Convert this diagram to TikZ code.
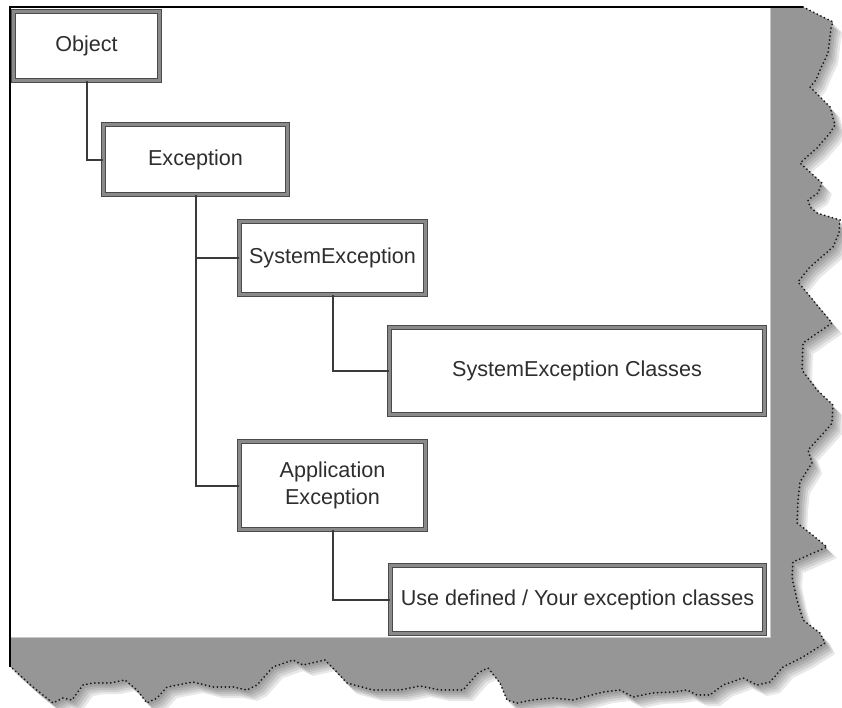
\documentclass[tikz,border=0pt]{standalone}
\usepackage{fontspec}
\setmainfont{Liberation Sans}
\definecolor{boxedge}{HTML}{4A4A4A}
\definecolor{boxband}{HTML}{8A8A8A}
\definecolor{txt}{HTML}{2E2E2E}
\definecolor{lnk}{HTML}{3A3A3A}
\definecolor{pagegray}{HTML}{969696}
\definecolor{seam}{HTML}{C8C8C8}
\begin{document}
\begin{tikzpicture}[x=1pt,y=-1pt,
  box/.style={draw=boxedge, line width=1pt, double=boxband, double distance=2.8pt,
    fill=white, inner sep=0pt, font=\fontsize{21.6}{27}\selectfont, text=txt, align=center},
  link/.style={draw=lnk, line width=2pt},
  tornline/.style={draw=black!90, line width=2pt, line cap=round, dash pattern=on 0pt off 4pt}]
\useasboundingbox (0,0) rectangle (842,707);
\def\tornpts{(803,7) -- (833,22) -- (831,28) -- (828,53) -- (820,70) -- (816,80) -- (810,87)
 -- (830,107) -- (835,125) -- (830,133) -- (817,148) -- (800,163) -- (822,183) -- (818,193)
 -- (808,200) -- (810,207) -- (817,213) -- (840,220) -- (839,233) -- (833,247) -- (810,267)
 -- (798,282) -- (807,293) -- (832,323) -- (803,343) -- (802,370) -- (817,390) -- (833,405)
 -- (832,423) -- (828,428) -- (808,450) -- (812,463) -- (800,482) -- (798,500) -- (797,523)
 -- (810,533) -- (827,547) -- (793,562) -- (792,577) -- (797,600) -- (803,620) -- (820,633)
 -- (825,643) -- (803,657) -- (783,667) -- (770,682) -- (757,685) -- (743,678) -- (723,685)
 -- (710,695) -- (697,695) -- (687,690) -- (673,692) -- (653,693) -- (633,697) -- (620,690)
 -- (603,692) -- (573,700) -- (553,698) -- (533,700) -- (517,703) -- (507,700) -- (500,683)
 -- (488,668) -- (478,673) -- (463,690) -- (440,690) -- (420,686) -- (400,690) -- (373,690)
 -- (347,683) -- (333,668) -- (325,660) -- (303,665) -- (293,660) -- (273,667) -- (257,685)
 -- (247,690) -- (233,687) -- (213,687) -- (193,682) -- (167,687) -- (157,698) -- (147,703)
 -- (137,690) -- (125,680) -- (110,683) -- (93,683) -- (83,685) -- (72,700) -- (63,698)
 -- (53,703) -- (33,687) -- (12,668) -- (10,667)}
% soft shadow
\foreach \s in {2,4,6,8,10}{
  \begin{scope}[shift={(\s,\s+1)}]
    \fill[black, opacity=0.09] (10,7) -- \tornpts -- cycle;
  \end{scope}
}
% gray page area
\fill[pagegray] (10,7) -- \tornpts -- cycle;
\draw[tornline] \tornpts;
% white drawing area
\fill[white] (10,7) rectangle (770,637);
\draw[seam, line width=1pt] (770,7) -- (770,637) -- (10,637);
% black frame lines
\draw[black, line width=2pt] (10,667) -- (10,7) -- (803,7);

% boxes
\node[box, minimum width=146pt, minimum height=69pt] (obj) at (86.5,46) {Object};
\node[box, minimum width=184pt, minimum height=70pt] (exc) at (195.5,159.5) {Exception};
\node[box, minimum width=186pt, minimum height=73pt] (sys) at (332.5,258) {SystemException};
\node[box, minimum width=375pt, minimum height=87pt] (sec) at (577,371) {SystemException Classes};
\node[box, minimum width=186pt, minimum height=88pt] (app) at (332.5,485.5) {Application\\Exception};
\node[box, minimum width=374pt, minimum height=68pt] (ud) at (577.5,599.5) {Use defined / Your exception classes};

% connectors
\draw[link] (obj.south) |- (exc.west);
\draw[link] (exc.south) |- (sys.west);
\draw[link] (exc.south) |- (app.west);
\draw[link] (sys.south) |- (sec.west);
\draw[link] (app.south) |- (ud.west);
\end{tikzpicture}
\end{document}
